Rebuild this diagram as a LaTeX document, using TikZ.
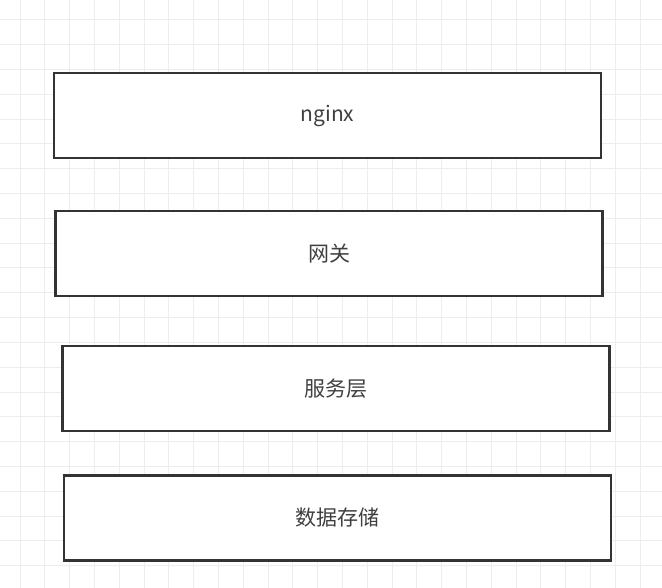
\documentclass[tikz,border=0pt]{standalone}
\usepackage{fontspec}
\setmainfont{Noto Sans CJK SC}
\begin{document}
\begin{tikzpicture}[x=1pt,y=-1pt]
%styles
\tikzstyle{gridLine}=[draw=black!7, line width=1pt]
\tikzstyle{layerBox}=[rectangle, draw=black!80, line width=2.2pt, fill=white, text=black!75, minimum width=547pt, minimum height=85pt, inner sep=0pt, font=\fontsize{21}{24}\selectfont]
%grid
\useasboundingbox (0,0) rectangle (662,588);
\fill[white] (0,0) rectangle (662,588);
\foreach \i in {0,...,26}
  \draw[gridLine] (20+24.8*\i,0) -- ++(0,588);
\foreach \j in {0,...,22}
  \draw[gridLine] (0,20+24.8*\j) -- ++(662,0);
%nodes
\node[layerBox] (nginx) at (327.5,115.5) {nginx};
\node[layerBox] (gateway) at (329,253.5) {网关};
\node[layerBox] (service) at (336,388.5) {服务层};
\node[layerBox] (storage) at (337.5,518) {数据存储};
\end{tikzpicture}
\end{document}
